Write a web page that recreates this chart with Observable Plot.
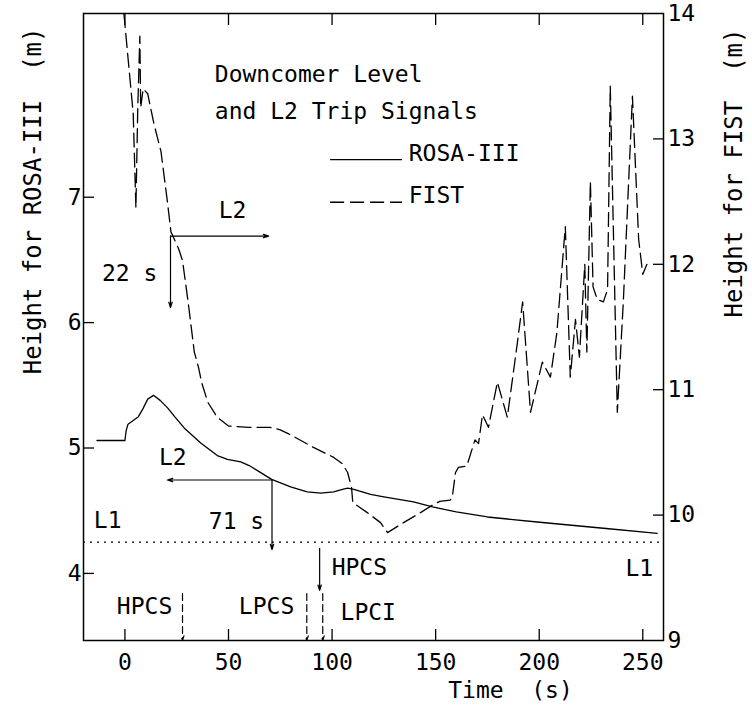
<!DOCTYPE html>
<html>
<head>
<meta charset="utf-8">
<script src="https://cdn.jsdelivr.net/npm/d3@7"></script>
<script src="https://cdn.jsdelivr.net/npm/@observablehq/plot@0.6"></script>
<style>
  html, body { margin: 0; padding: 0; background: #fff; }
  #chart { width: 752px; height: 715px; }
</style>
</head>
<body>
<div id="chart"></div>
<script>
// ---- data ----
// ROSA-III downcomer level (time s, height m on left axis)
const rosaTime = [-13.5, 0, 0.6, 1.5, 4, 6.5, 8.6, 11, 13.8, 17, 20.6, 24, 28.6, 36.6, 44.6, 49.5, 55.9, 60, 64, 70.8, 80, 88, 94.5, 100.8, 105, 107.5, 110.5, 118.6, 125, 139.3, 148.5, 160, 175, 199, 231, 257];
const rosaHeight = [5.06, 5.06, 5.14, 5.19, 5.22, 5.25, 5.31, 5.39, 5.42, 5.38, 5.32, 5.25, 5.16, 5.04, 4.94, 4.91, 4.89, 4.86, 4.82, 4.75, 4.69, 4.65, 4.64, 4.65, 4.67, 4.68, 4.67, 4.63, 4.61, 4.57, 4.53, 4.49, 4.45, 4.41, 4.36, 4.32];

// FIST downcomer level (time s, height m on right axis)
const fistTime = [-0.5, 4, 5.3, 6.2, 7.2, 7.6, 8.8, 11, 14, 17.4, 20.5, 22.2, 26, 27.8, 30.5, 33.5, 35.5, 37, 40, 44.6, 50, 60, 70, 75, 80, 91, 100.8, 105, 107.5, 109.4, 110, 117, 123.4, 126.8, 134.5, 142.7, 148.5, 152, 157, 158, 159.6, 161, 165, 169, 170.7, 172.6, 175.5, 179.8, 184.6, 189.5, 192, 195.8, 201.5, 205.4, 208.5, 212.6, 215, 217.5, 219.4, 222, 223, 224.7, 226, 228, 231, 233, 234.3, 237.7, 240.6, 245, 248, 250, 252];
const fistHeight = [14.0, 13.2, 12.45, 13.25, 13.82, 13.25, 13.4, 13.36, 13.12, 12.9, 12.5, 12.26, 12.12, 12.03, 11.7, 11.3, 11.18, 11.06, 10.9, 10.78, 10.71, 10.7, 10.7, 10.68, 10.64, 10.54, 10.46, 10.41, 10.34, 10.22, 10.1, 10.02, 9.94, 9.86, 9.94, 10.02, 10.08, 10.11, 10.12, 10.14, 10.34, 10.38, 10.39, 10.6, 10.57, 10.8, 10.7, 11.06, 10.78, 11.38, 11.7, 10.82, 11.22, 11.1, 11.45, 12.3, 11.1, 11.56, 11.26, 12.0, 11.3, 12.66, 11.82, 11.72, 11.7, 11.8, 13.42, 10.82, 11.7, 13.34, 12.2, 11.92, 12.0];

// axes
const xDomain = [-20, 260];
const leftDomain = [3.465, 8.465];
const fistOffset = 5.535;            // right axis value = left axis value + offset
const xTicks = [0, 50, 100, 150, 200, 250];
const leftTicks = [4, 5, 6, 7];
const rightTickMarks = [10, 11, 12, 13];
const rightTickLabels = [9, 10, 11, 12, 13, 14];
const L1level = 4.25;

// labels
const titleLines = [
  {text: "Downcomer Level", t: 43.4, h: 7.98},
  {text: "and L2 Trip Signals", t: 43.4, h: 7.686}
];
const legendLabels = ["ROSA-III", "FIST"];
const legendLineH = [7.30, 6.96];
const legendTextH = [7.35, 7.016];
const legendLine = {t1: 99.3, t2: 134, tText: 137};
const notes = [
  {text: "L2", t: 45.3, h: 6.89},
  {text: "22 s", t: -11.1, h: 6.39},
  {text: "L2", t: 16.4, h: 4.925},
  {text: "71 s", t: 40.5, h: 4.41},
  {text: "L1", t: -15, h: 4.42},
  {text: "L1", t: 241.6, h: 4.035},
  {text: "HPCS", t: 99.8, h: 4.05},
  {text: "HPCS", t: -3.9, h: 3.735},
  {text: "LPCS", t: 55, h: 3.735},
  {text: "LPCI", t: 104.1, h: 3.69}
];
const tripArrows = [
  {t1: 22, h1: 6.69, t2: 69.4, h2: 6.69},
  {t1: 22, h1: 6.69, t2: 22, h2: 6.12},
  {t1: 71, h1: 4.745, t2: 20.5, h2: 4.745},
  {t1: 71, h1: 4.745, t2: 71, h2: 4.19},
  {t1: 94, h1: 4.2, t2: 94, h2: 3.865}
];
const injectionMarks = [27.8, 87.8, 95.5];
const injectionTop = 3.84;

// ---- build ----
const rosa = rosaTime.map((t, i) => ({t, h: rosaHeight[i]}));
const fist = fistTime.map((t, i) => ({t, h: fistHeight[i] - fistOffset}));
const font = "DejaVu Sans Mono";
const dash = "14,6";

const chart = Plot.plot({
  width: 752,
  height: 715,
  marginLeft: 83,
  marginRight: 89,
  marginTop: 13,
  marginBottom: 75,
  x: {domain: xDomain},
  y: {domain: leftDomain},
  style: {fontFamily: font, fontSize: "23px", background: "white", color: "black", overflow: "visible"},
  marks: [
    // ticks (inward)
    Plot.axisX(xTicks, {anchor: "bottom", tickSize: -11, fill: "none", label: null, strokeWidth: 1.3}),
    Plot.axisX(xTicks, {anchor: "top", tickSize: -11, fill: "none", label: null, strokeWidth: 1.3}),
    Plot.axisY(leftTicks, {anchor: "left", tickSize: -11, fill: "none", label: null, strokeWidth: 1.3}),
    Plot.axisY(rightTickMarks.map(v => v - fistOffset), {anchor: "right", tickSize: -11, fill: "none", label: null, strokeWidth: 1.3}),
    // tick labels
    Plot.axisX(xTicks, {anchor: "bottom", tickSize: 0, tickPadding: 13, label: null, fontSize: 23, tickFormat: d => String(d)}),
    Plot.axisY(leftTicks, {anchor: "left", tickSize: 0, tickPadding: 2, label: null, fontSize: 23, tickFormat: d => String(d)}),
    Plot.axisY(rightTickLabels.map(v => v - fistOffset), {anchor: "right", tickSize: 0, tickPadding: 4, label: null, fontSize: 23,
      tickFormat: d => String(Math.round(d + fistOffset))}),
    // L1 dotted level
    Plot.ruleY([L1level], {strokeDasharray: "2,5", strokeWidth: 1.3}),
    // curves
    Plot.line(rosa, {x: "t", y: "h", strokeWidth: 1.3, clip: true}),
    Plot.line(fist, {x: "t", y: "h", strokeWidth: 1.3, strokeDasharray: dash, clip: true}),
    // trip arrows
    Plot.arrow(tripArrows, {x1: "t1", y1: "h1", x2: "t2", y2: "h2", strokeWidth: 1.2, headLength: 7, headAngle: 35}),
    Plot.arrow(injectionMarks, {x1: d => d, y1: injectionTop, x2: d => d, y2: leftDomain[0], strokeWidth: 1.2, strokeDasharray: "7,4", headLength: 6, headAngle: 35}),
    // legend
    Plot.ruleY([legendLineH[0]], {x1: legendLine.t1, x2: legendLine.t2, strokeWidth: 1.3}),
    Plot.ruleY([legendLineH[1]], {x1: legendLine.t1, x2: legendLine.t2, strokeWidth: 1.3, strokeDasharray: dash}),
    Plot.text(legendLabels, {x: legendLine.tText, y: (d, i) => legendTextH[i], text: d => d, textAnchor: "start", fontSize: 23}),
    // title & notes
    Plot.text(titleLines, {x: "t", y: "h", text: "text", textAnchor: "start", fontSize: 23}),
    Plot.text(notes, {x: "t", y: "h", text: "text", textAnchor: "start", fontSize: 23}),
    // axis titles
    Plot.text(["Time  (s)"], {frameAnchor: "bottom", dx: 137, dy: 57, fontSize: 23}),
    Plot.text(["Height for ROSA-III  (m)"], {frameAnchor: "top-left", dx: -60, dy: 14, rotate: -90, textAnchor: "end", fontSize: 24}),
    Plot.text(["Height for FIST  (m)"], {frameAnchor: "top-right", dx: 61, dy: 15, rotate: -90, textAnchor: "end", fontSize: 24}),
    Plot.frame({strokeWidth: 1.5})
  ]
});
document.getElementById("chart").appendChild(chart);
</script>
</body>
</html>
